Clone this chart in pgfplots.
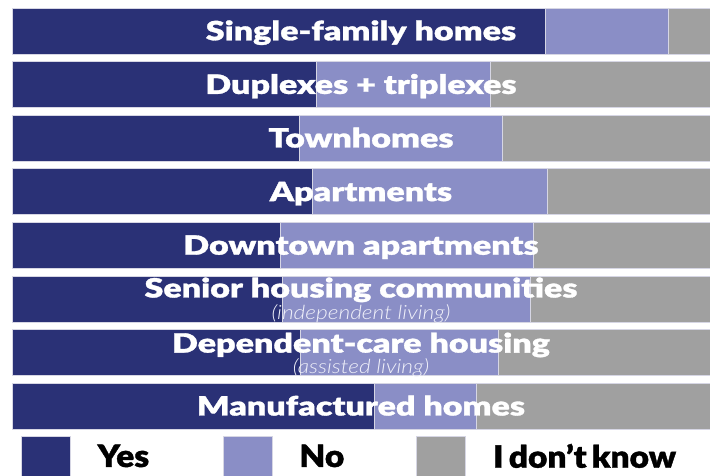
\documentclass[border=0pt]{standalone}
\usepackage{pgfplots}
\pgfplotsset{compat=1.18}
\usepackage{pgfplotstable}
\usepackage{fontspec}
\setmainfont{Lato}
\newfontfamily\heavy{Lato Black}[FakeStretch=1.285, FakeBold=1.2]
\newfontfamily\heavyleg{Lato Black}[FakeStretch=1.09, FakeBold=1.2]
\newfontfamily\lightit{Lato Light Italic}[FakeStretch=1.16]
\newcommand\labfont{\heavy\fontsize{26.5}{28}\selectfont}
\newcommand\subfont{\lightit\fontsize{19.6}{21}\selectfont}
\newcommand\legfont{\heavyleg\fontsize{30.7}{32}\selectfont}
\definecolor{cyes}{RGB}{42,49,118}
\definecolor{cno}{RGB}{138,142,198}
\definecolor{cidk}{RGB}{160,160,160}
\definecolor{cedge}{RGB}{214,214,228}
\definecolor{csub}{RGB}{240,241,250}
\tikzset{lab/.style={text=white, inner sep=0pt, font=\labfont, anchor=base},
         sub/.style={text=csub, inner sep=0pt, font=\subfont, anchor=base}}

\pgfplotstableread{
r yes no idk
1 76.4 17.6 6.0
2 43.6 24.9 31.5
3 41.1 29.1 29.8
4 43.0 33.7 23.3
5 38.5 36.2 25.3
6 38.8 35.5 25.7
7 41.3 28.4 30.3
8 51.9 14.6 33.5
}\datatable

\begin{document}
\begin{tikzpicture}
\useasboundingbox (0pt,0pt) rectangle (710pt,476pt);
\begin{axis}[
  at={(12pt,471.8pt)}, anchor=north west,
  scale only axis, width=698pt, height=428.8pt,
  xbar stacked, bar width=0.858,
  xmin=0, xmax=100, ymin=0.5, ymax=8.5, y dir=reverse,
  hide axis, clip=false,
  legend columns=3,
  legend style={draw=none, fill=none, inner sep=0pt, outer sep=0pt,
    at={(0,0)}, anchor=north west, xshift=9pt, yshift=-3.2pt,
    font=\legfont,
    /tikz/every odd column/.append style={column sep=27pt},
    nodes={inner sep=0pt}},
  legend image code/.code={\fill[#1] (0pt,-20pt) rectangle (49pt,20pt);},
]
\addplot[fill=cyes, draw=cedge, line width=0.7pt] table[x=yes, y=r] {\datatable};
\addlegendentry{\hbox to 125pt{Yes\hfil}}
\addplot[fill=cno, draw=cedge, line width=0.7pt] table[x=no, y=r] {\datatable};
\addlegendentry{\hbox to 117pt{No\hfil}}
\addplot[fill=cidk, draw=cedge, line width=0.7pt] table[x=idk, y=r] {\datatable};
\addlegendentry{\hbox to 183pt{I don’t know\hfil}}

\coordinate (L1) at (axis cs:50,1);
\coordinate (L2) at (axis cs:50,2);
\coordinate (L3) at (axis cs:50,3);
\coordinate (L4) at (axis cs:50,4);
\coordinate (L5) at (axis cs:50,5);
\coordinate (L6) at (axis cs:50,6);
\coordinate (L7) at (axis cs:50,7);
\coordinate (L8) at (axis cs:50,8);
\end{axis}
\node[lab] at ([yshift=-9.3pt]L1) {Single-family homes};
\node[lab] at ([yshift=-9.3pt]L2) {Duplexes + triplexes};
\node[lab] at ([yshift=-9.3pt]L3) {Townhomes};
\node[lab] at ([yshift=-9.3pt]L4) {Apartments};
\node[lab] at ([yshift=-9.3pt]L5) {Downtown apartments};
\node[lab] at ([yshift=1.5pt]L6) {Senior housing communities};
\node[sub] at ([yshift=-20.5pt]L6) {(independent living)};
\node[lab] at ([yshift=0pt]L7) {Dependent-care housing};
\node[sub] at ([yshift=-21pt]L7) {(assisted living)};
\node[lab] at ([yshift=-9.3pt]L8) {Manufactured homes};
\end{tikzpicture}
\end{document}
